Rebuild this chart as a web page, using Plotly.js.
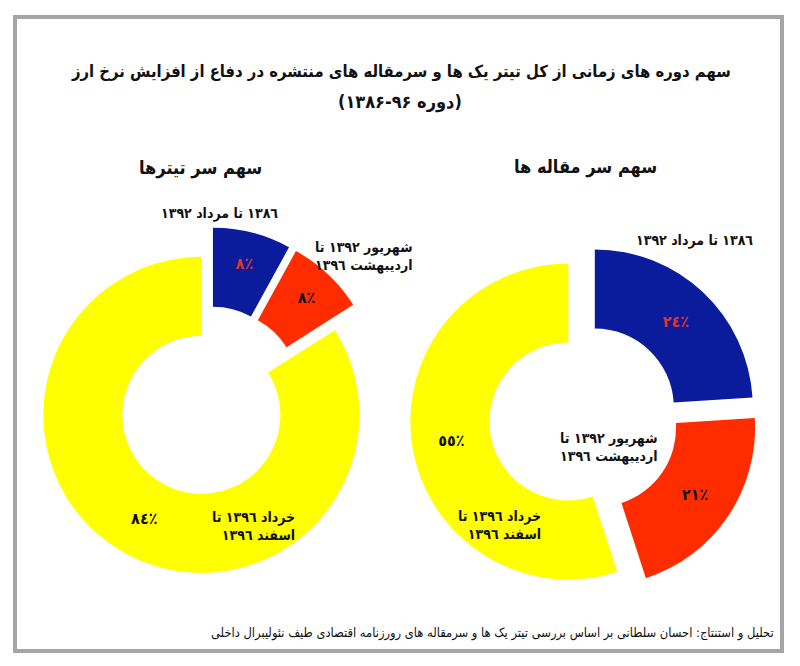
<!DOCTYPE html>
<html>
<head>
<meta charset="utf-8">
<script src="https://cdn.plot.ly/plotly-3.0.1.min.js"></script>
<style>
  html, body { margin: 0; padding: 0; background: #ffffff; }
  #chart { width: 800px; height: 666px; }
</style>
</head>
<body>
<div id="chart"></div>
<script>
// Time periods (slice categories), shared by both rings
const periods = [
  '١٣٨٦ تا مرداد ١٣٩٢',
  'شهریور ١٣٩٢ تا<br>اردیبهشت ١٣٩٦',
  'خرداد ١٣٩٦ تا<br>اسفند ١٣٩٦'
];
// Share of front-page headlines per period (%)
const headlineShares = [8, 8, 84];
// Share of editorials per period (%)
const editorialShares = [24, 21, 55];

const chartTitle = 'سهم دوره های زمانی از کل تیتر یک ها و سرمقاله های منتشره در دفاع از افزایش نرخ ارز';
const chartSubtitle = '(دوره ۹۶-۱۳۸۶)';
const headlineTitle = 'سهم سر تیترها';
const editorialTitle = 'سهم سر مقاله ها';
const sourceNote = 'تحلیل و استنتاج: احسان سلطانی بر اساس بررسی تیتر یک ها و سرمقاله های رورزنامه اقتصادی طیف نئولیبرال داخلی';

const sliceColors = ['#0a1c9c', '#ff2c00', '#ffff00'];
const textColors = ['#e0342a', '#111111', '#111111'];

const W = 800, H = 666;
const RLM = '\u200F';
const fx = x => x / W;
const fy = y => 1 - y / H;

// Arabic-Indic digits followed by the Arabic percent sign
function pct(v) {
  return String(v).replace(/[0-9]/g, d => String.fromCharCode(0x0660 + +d)) + '٪';
}

const FONT = 'DejaVu Sans Condensed, DejaVu Sans, sans-serif';

function ring(values, domain) {
  return {
    type: 'pie',
    values: values,
    labels: periods,
    text: values.map(pct),
    texttemplate: '%{text}',
    textposition: 'inside',
    insidetextorientation: 'horizontal',
    insidetextfont: { family: FONT, size: 16, color: textColors, weight: 'bold' },
    hole: 0.5,
    pull: values.map(() => 0.1),
    sort: false,
    direction: 'clockwise',
    rotation: 0,
    marker: { colors: sliceColors, line: { width: 0 } },
    domain: domain,
    showlegend: false,
    hoverinfo: 'label+percent'
  };
}

// ring centre (cx, cy) in pixels, outer radius r, pull 0.1
function box(cx, cy, r) {
  const h = r * 1.1;
  return { x: [fx(cx - h), fx(cx + h)], y: [fy(cy + h), fy(cy - h)] };
}

const data = [
  ring(headlineShares, box(209, 401, 158)),
  ring(editorialShares, box(584, 419, 158))
];

function label(text, x, y, size, align, xanchor, weight) {
  const lines = text.split('<br>').map(s => RLM + s + RLM).join('<br>');
  return {
    text: lines, x: fx(x), y: fy(y), xref: 'paper', yref: 'paper',
    xanchor: xanchor || 'center', yanchor: 'middle', align: align || 'center',
    showarrow: false,
    font: { family: FONT, size: size, color: '#111111', weight: weight || 'bold' }
  };
}

const annotations = [
  label(chartTitle, 401, 72, 16.5),
  label(chartSubtitle, 400, 102, 18),
  label(headlineTitle, 200, 168, 18),
  label(editorialTitle, 585, 167, 18),
  // headline ring period labels
  label(periods[0], 280, 213, 14, 'right', 'right'),
  label(periods[1], 415, 256, 14, 'right', 'right'),
  label(periods[2], 297, 526, 14, 'right', 'right'),
  // editorial ring period labels
  label(periods[0], 755, 240, 14, 'right', 'right'),
  label(periods[1], 660, 447, 14, 'right', 'right'),
  label(periods[2], 543, 525, 14, 'right', 'right'),
  label(sourceNote, 776, 633, 12.8, 'right', 'right', 'normal')
];

const layout = {
  width: W, height: H,
  margin: { l: 0, r: 0, t: 0, b: 0 },
  paper_bgcolor: '#ffffff',
  plot_bgcolor: '#ffffff',
  font: { family: FONT },
  annotations: annotations,
  shapes: [{
    type: 'rect', xref: 'paper', yref: 'paper',
    x0: fx(15), x1: fx(782), y0: fy(651), y1: fy(17),
    line: { color: '#a5a5a5', width: 4 }, fillcolor: 'rgba(0,0,0,0)'
  }]
};

Plotly.newPlot('chart', data, layout, { displayModeBar: false, staticPlot: true });
</script>
</body>
</html>
